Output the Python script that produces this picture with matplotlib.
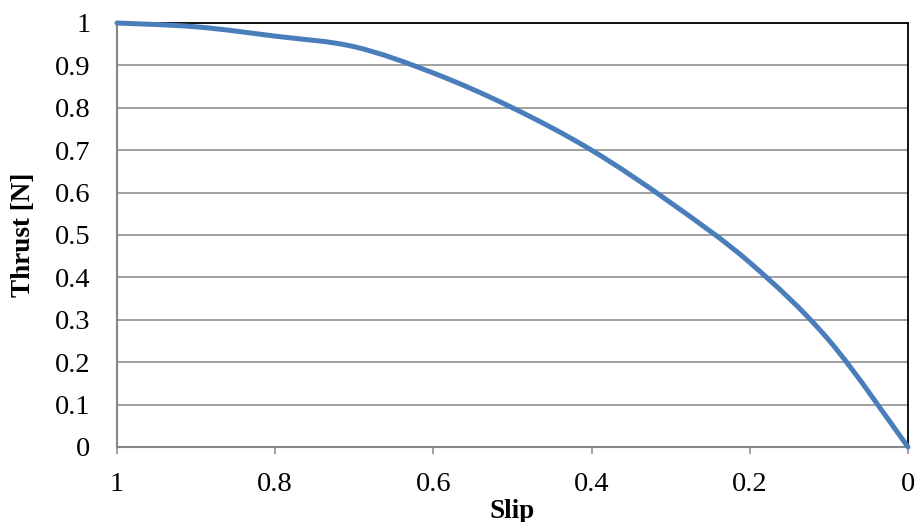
import matplotlib
matplotlib.use("Agg")
import matplotlib.pyplot as plt
from matplotlib.path import Path
from matplotlib.patches import PathPatch

# Thrust vs. slip characteristic
slip = [1.0, 0.9, 0.8, 0.7, 0.6, 0.5, 0.4, 0.3, 0.2, 0.1, 0.0]
thrust = [1.000, 0.991, 0.969, 0.944, 0.882, 0.800, 0.700, 0.576, 0.435, 0.252, 0.000]

x_ticks = [1, 0.8, 0.6, 0.4, 0.2, 0]
x_tick_labels = ["1", "0.8", "0.6", "0.4", "0.2", "0"]
y_ticks = [0, 0.1, 0.2, 0.3, 0.4, 0.5, 0.6, 0.7, 0.8, 0.9, 1]
y_tick_labels = ["0", "0.1", "0.2", "0.3", "0.4", "0.5", "0.6", "0.7", "0.8", "0.9", "1"]

plt.rcParams["font.family"] = ["Liberation Serif", "DejaVu Serif"]


def smooth_path(xs, ys):
    """Cubic Bezier path through the points (spreadsheet-style smoothed line)."""
    pts = list(zip(xs, ys))
    n = len(pts)
    verts = [pts[0]]
    codes = [Path.MOVETO]
    for i in range(n - 1):
        p0 = pts[i - 1] if i > 0 else pts[i]
        p1 = pts[i]
        p2 = pts[i + 1]
        p3 = pts[i + 2] if i + 2 < n else pts[i + 1]
        c1 = (p1[0] + (p2[0] - p0[0]) / 6, p1[1] + (p2[1] - p0[1]) / 6)
        c2 = (p2[0] - (p3[0] - p1[0]) / 6, p2[1] - (p3[1] - p1[1]) / 6)
        verts += [c1, c2, p2]
        codes += [Path.CURVE4, Path.CURVE4, Path.CURVE4]
    return Path(verts, codes)


fig = plt.figure(figsize=(9.17, 5.22), dpi=100)
ax = fig.add_axes([117 / 917, 1 - 447 / 522, (908 - 117) / 917, (447 - 23) / 522])

grid_col = "#868686"
ax.set_xlim(1, 0)
ax.set_ylim(0, 1)
ax.set_yticks(y_ticks)
ax.set_yticklabels(y_tick_labels)
ax.set_xticks(x_ticks)
ax.set_xticklabels(x_tick_labels)

ax.grid(axis="y", color=grid_col, linewidth=1.1)
ax.set_axisbelow(True)

curve = PathPatch(smooth_path(slip, thrust), facecolor="none", edgecolor="#4A7EBB",
                  linewidth=3.6, capstyle="round", joinstyle="round",
                  clip_on=False, zorder=5)
ax.add_patch(curve)

for side in ("left", "bottom"):
    ax.spines[side].set_color(grid_col)
    ax.spines[side].set_linewidth(1.5)
for side in ("top", "right"):
    ax.spines[side].set_color("black")
    ax.spines[side].set_linewidth(1.3)

ax.tick_params(axis="y", length=0, pad=19, labelsize=20.5)
ax.tick_params(axis="x", length=5, width=1.1, color=grid_col, pad=13, labelsize=20.5)

ax.set_xlabel("Slip", fontsize=19.5, fontweight="bold")
ax.set_ylabel("Thrust [N]", fontsize=19.5, fontweight="bold")
ax.xaxis.set_label_coords(0.5, -0.122)
ax.yaxis.set_label_coords(-0.103, 0.5)

fig.savefig("out.png", dpi=100, facecolor="white")
